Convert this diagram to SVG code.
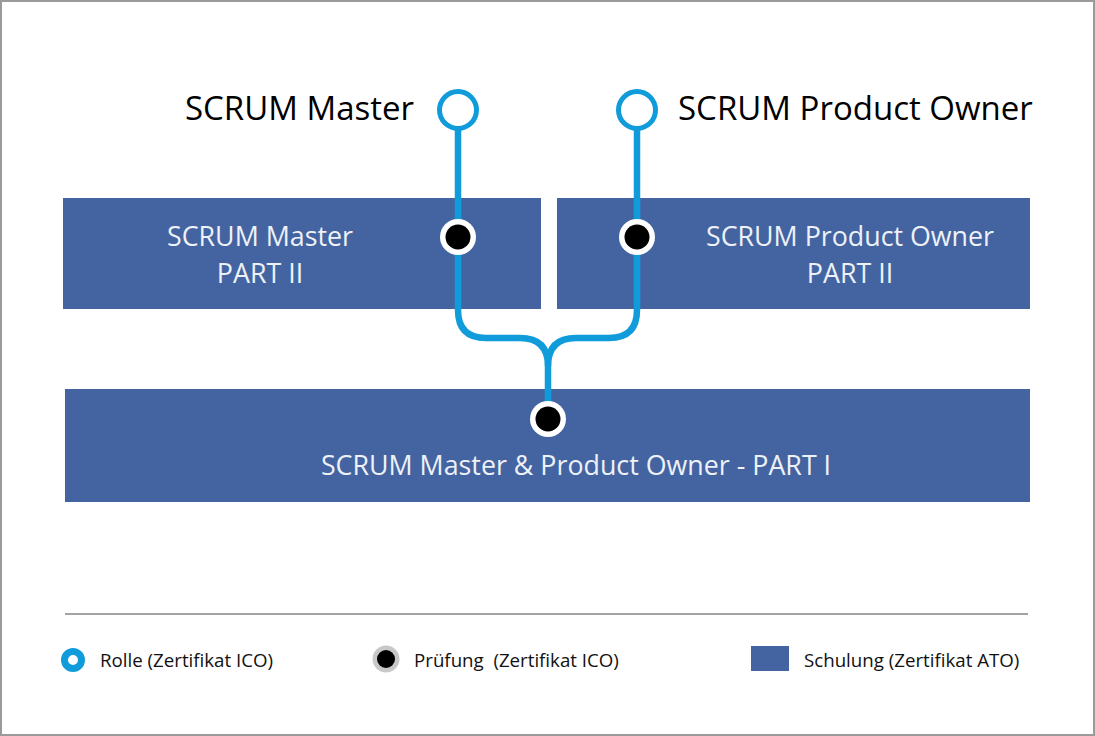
<svg xmlns="http://www.w3.org/2000/svg" width="1095" height="736" viewBox="0 0 1095 736">
<style>
.box{fill:#4364a1}
.bt{font-family:"Open Sans","Noto Sans",sans-serif;font-size:26.8px;fill:#eef1f7;text-anchor:middle}
.tt{font-family:"Open Sans","Noto Sans",sans-serif;font-size:33px;fill:#000}
.lt{font-family:"Open Sans","Noto Sans",sans-serif;font-size:18.7px;fill:#111}
.line{fill:none;stroke:#109bdb;stroke-width:6.5}
.role{fill:#fff;stroke:#109bdb;stroke-width:5}
</style>
<rect x="1" y="1" width="1093" height="734" fill="#fff" stroke="#9a9a9a" stroke-width="2"/>
<g id="box-sm2"><rect class="box" x="63" y="198" width="478" height="111"/><text class="bt" x="260" y="246">SCRUM Master</text><text class="bt" x="260" y="283">PART II</text></g>
<g id="box-po2"><rect class="box" x="557" y="198" width="473" height="111"/><text class="bt" x="850" y="246">SCRUM Product Owner</text><text class="bt" x="850" y="283">PART II</text></g>
<g id="box-p1"><rect class="box" x="65" y="389" width="965" height="113"/><text class="bt" x="576" y="475">SCRUM Master &amp; Product Owner - PART I</text></g>
<g id="connectors">
<path class="line" d="M458,110 V310 Q458,338 486,338 H520 Q548,338 548,366 V419"/>
<path class="line" d="M637,110 V310 Q637,338 609,338 H576 Q548,338 548,366"/>
</g>
<g id="role-sm"><circle class="role" cx="458" cy="110" r="18.5"/><text class="tt" x="414" y="120" text-anchor="end">SCRUM Master</text></g>
<g id="role-po"><circle class="role" cx="637" cy="110" r="18.5"/><text class="tt" x="678" y="120">SCRUM Product Owner</text></g>
<g id="exam-sm"><circle cx="458" cy="237" r="18" fill="#fff"/><circle cx="458" cy="237" r="12.5" fill="#000"/></g>
<g id="exam-po"><circle cx="637" cy="237" r="18" fill="#fff"/><circle cx="637" cy="237" r="12.5" fill="#000"/></g>
<g id="exam-p1"><circle cx="548" cy="419" r="18" fill="#fff"/><circle cx="548" cy="419" r="12.5" fill="#000"/></g>
<g id="legend">
<line x1="65" y1="614" x2="1028" y2="614" stroke="#a3a3a3" stroke-width="2"/>
<circle cx="73" cy="660" r="8.5" fill="#fff" stroke="#109bdb" stroke-width="7"/>
<text class="lt" x="100" y="667">Rolle (Zertifikat ICO)</text>
<circle cx="386" cy="659" r="13.5" fill="#c8c8c8"/><circle cx="386" cy="659" r="9" fill="#000"/>
<text class="lt" x="414" y="667" xml:space="preserve">Prüfung  (Zertifikat ICO)</text>
<rect x="751" y="646" width="38" height="25" fill="#4364a1"/>
<text class="lt" x="804" y="667">Schulung (Zertifikat ATO)</text>
</g>
</svg>
